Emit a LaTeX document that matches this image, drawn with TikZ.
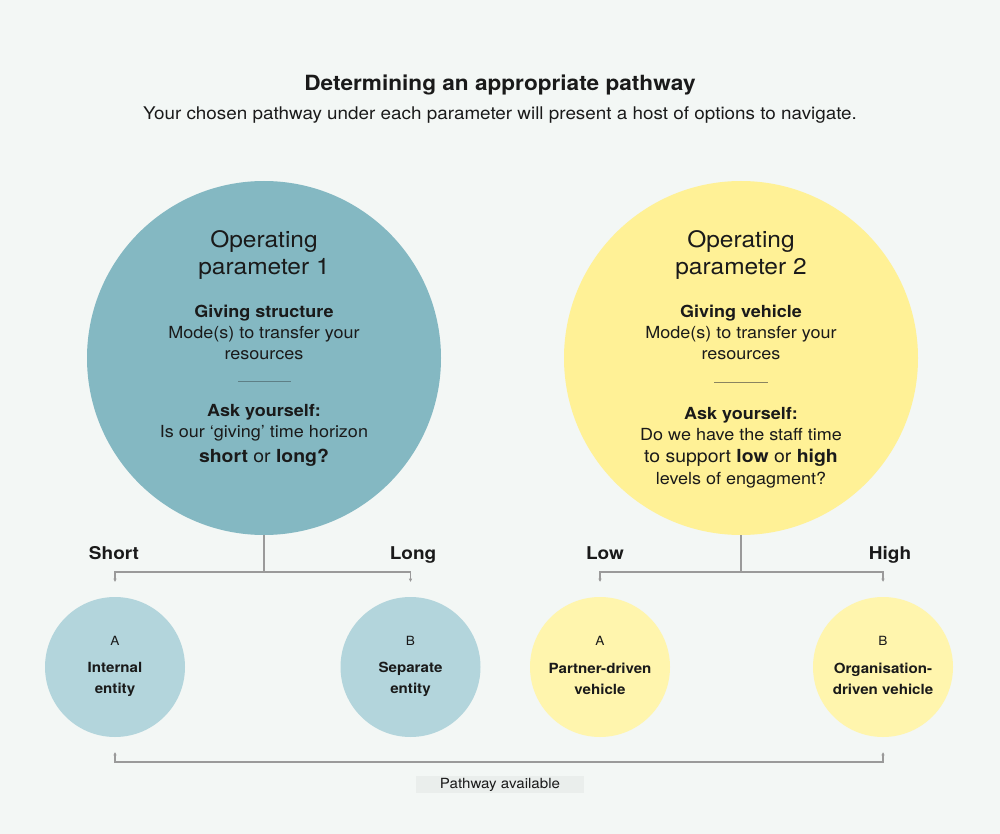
\documentclass[tikz,border=0pt]{standalone}
\usepackage{fontspec}
\setmainfont{TeX Gyre Heros}[FakeStretch=1.08]
\usetikzlibrary{arrows.meta}
\definecolor{bg}{HTML}{F3F7F5}
\definecolor{tealc}{HTML}{84B8C2}
\definecolor{yelc}{HTML}{FFF196}
\definecolor{ltealc}{HTML}{B3D5DC}
\definecolor{lyelc}{HTML}{FFF5AD}
\definecolor{lnc}{HTML}{9A9A9A}
\definecolor{sepc}{HTML}{5E7F86}
\definecolor{sepy}{HTML}{8A8460}
\definecolor{tagbg}{HTML}{EAEEEC}
\definecolor{txt}{HTML}{1A1A1A}
\begin{document}
\begin{tikzpicture}[x=0.75pt,y=-0.75pt,
  bigc/.style={circle,inner sep=0pt,minimum size=265.5pt},
  smallc/.style={circle,inner sep=0pt,minimum size=105pt},
  conn/.style={draw=lnc,line width=0.8pt,{Latex[length=2.5pt,width=2.5pt]}-{Latex[length=2.5pt,width=2.5pt]}},
  stem/.style={draw=lnc,line width=0.8pt},
  head/.style={text=txt,align=center,font=\fontsize{17}{20}\selectfont},
  body/.style={text=txt,align=center,font=\fontsize{12.5}{15.75}\selectfont},
  lab/.style={text=txt,anchor=base,font=\bfseries\fontsize{13.2}{15}\selectfont},
  letter/.style={text=txt,font=\fontsize{9.5}{12}\selectfont},
  sname/.style={text=txt,align=center,font=\bfseries\fontsize{10.5}{15.75}\selectfont}
]
\fill[bg] (0,0) rectangle (1000,834);
\useasboundingbox (0,0) rectangle (1000,834);

% title
\node[text=txt,font=\bfseries\fontsize{15.7}{18}\selectfont] (title) at (500,85) {Determining an appropriate pathway};
\node[text=txt,font=\fontsize{13.1}{16}\selectfont] (sub) at (500,115) {Your chosen pathway under each parameter will present a host of options to navigate.};

% big circles
\node[bigc,fill=tealc] (c1) at (264,358) {};
\node[bigc,fill=yelc] (c2) at (741,358) {};

% circle 1 text
\node[head] (h1) at (264,255) {Operating\\parameter 1};
\node[body] (b1) at (264,332) {\textbf{Giving structure}\\Mode(s) to transfer your\\resources};
\draw[sepc,line width=0.6pt] (238,381) -- (291,381);
\node[body] (q1) at (264,423) {\textbf{Ask yourself:}\\Is our ‘giving’ time horizon};
\node[text=txt,font=\fontsize{13.5}{15}\selectfont] (q1b) at (264,458) {\textbf{short} or \textbf{long?}};

% circle 2 text
\node[head] (h2) at (741,255) {Operating\\parameter 2};
\node[body] (b2) at (741,332) {\textbf{Giving vehicle}\\Mode(s) to transfer your\\resources};
\draw[sepy,line width=0.6pt] (714,382) -- (768,382);
\node[body] (q2) at (741,424) {\textbf{Ask yourself:}\\Do we have the staff time};
\node[text=txt,font=\fontsize{13.5}{15}\selectfont] (q2b) at (741,458) {to support \textbf{low} or \textbf{high}};
\node[body] (q2c) at (741,480) {levels of engagment?};

% small circles
\node[smallc,fill=ltealc] (s1) at (115,667) {};
\node[smallc,fill=ltealc] (s2) at (410.5,667) {};
\node[smallc,fill=lyelc] (s3) at (600,667) {};
\node[smallc,fill=lyelc] (s4) at (883,667) {};

\node[letter] (a1) at (115,641) {A};
\node[sname] (n1) at (115,679) {Internal\\entity};
\node[letter] (a2) at (410.5,641) {B};
\node[sname] (n2) at (410.5,679) {Separate\\entity};
\node[letter] (a3) at (600,641) {A};
\node[sname] (n3) at (600,679) {Partner-driven\\vehicle};
\node[letter] (a4) at (883,641) {B};
\node[sname] (n4) at (883,679) {Organisation-\\driven vehicle};

% branch labels
\node[lab] (l1) at (114,559) {Short};
\node[lab] (l2) at (413,559) {Long};
\node[lab] (l3) at (605,559) {Low};
\node[lab] (l4) at (890,559) {High};

% connectors
\coordinate (j1) at (264,572);
\coordinate (j2) at (741,572);
\draw[stem] (c1.south) -- (j1);
\draw[stem] (c2.south) -- (j2);
\draw[conn] ([yshift=11pt]s1.north) |- (j1) -| ([yshift=11pt]s2.north);
\draw[conn] ([yshift=11pt]s3.north) |- (j2) -| ([yshift=11pt]s4.north);

\coordinate (bj) at (500,762);
\draw[conn] ([yshift=-11pt]s1.south) |- (bj) -| ([yshift=-11pt]s4.south);

\node[fill=tagbg,text=txt,minimum width=126pt,minimum height=13pt,inner sep=0pt,font=\fontsize{10.5}{12}\selectfont] (pa) at (500,784.5) {Pathway available};
\end{tikzpicture}
\end{document}
